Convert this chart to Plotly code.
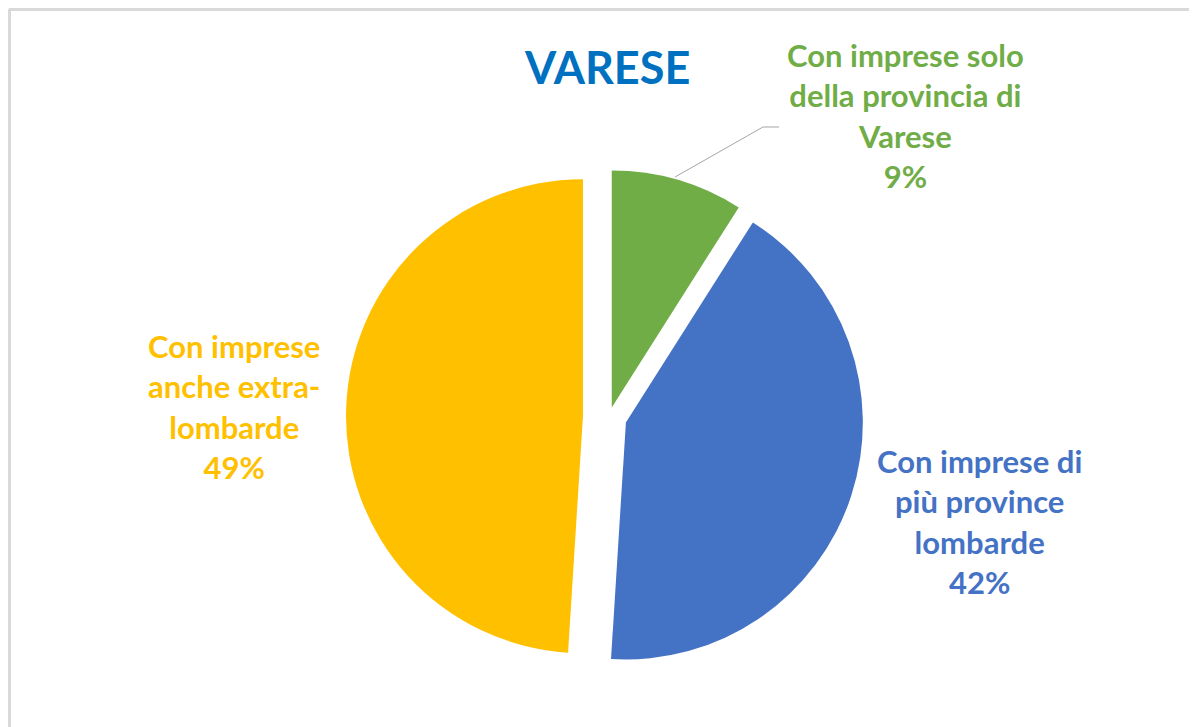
import plotly.graph_objects as go

W, H = 1197, 727
OFF = 8  # page body margin in px

categories = ["Con imprese solo della provincia di Varese",
              "Con imprese di più province lombarde",
              "Con imprese anche extra-lombarde"]
label_lines = [["Con imprese solo", "della provincia di", "Varese"],
               ["Con imprese di", "più province", "lombarde"],
               ["Con imprese", "anche extra-", "lombarde"]]
values = [9, 42, 49]
colors = ["#70AD47", "#4472C4", "#FFC000"]
pulls = [0.042, 0.075, 0.11]
title_text = "VARESE"

# label centres in page pixels
label_pos = [(905, 115), (979, 521), (234, 406)]


def px(x):
    return (x - OFF) / W


def py(y):
    return 1 - (y - OFF) / H


fig = go.Figure()

# pie domain: centre (609, 417) page px, box side 526 px
cx, cy, side = 609, 417, 526
fig.add_trace(go.Pie(
    labels=categories,
    values=values,
    marker=dict(colors=colors, line=dict(width=0)),
    pull=pulls,
    sort=False,
    direction="clockwise",
    rotation=0,
    textinfo="none",
    hoverinfo="label+percent",
    showlegend=False,
    domain=dict(x=[px(cx - side / 2), px(cx + side / 2)],
                y=[py(cy + side / 2), py(cy - side / 2)]),
))

total = sum(values)
annotations = []
for lines, v, c, (lx, ly) in zip(label_lines, values, colors, label_pos):
    txt = "<br>".join(lines + [f"{round(100 * v / total)}%"])
    annotations.append(dict(
        text=txt, x=px(lx), y=py(ly), xref="paper", yref="paper",
        xanchor="center", yanchor="middle", showarrow=False, align="center",
        font=dict(family="Lato", size=31, color=c, weight="bold"),
    ))

annotations.append(dict(
    text=f"<b>{title_text}</b>", x=px(607), y=py(67), xref="paper", yref="paper",
    xanchor="center", yanchor="middle", showarrow=False,
    font=dict(family="Lato", size=45, color="#0070C0"),
))

shapes = [
    # leader line for the small slice
    dict(type="path", xref="paper", yref="paper",
         path=f"M {px(675)} {py(177)} L {px(763)} {py(127)} L {px(779)} {py(127)}",
         line=dict(color="#A6A6A6", width=1)),
    # chart frame
    dict(type="line", xref="paper", yref="paper", x0=px(9), y0=py(9.5), x1=1, y1=py(9.5),
         line=dict(color="#D9D9D9", width=3)),
    dict(type="line", xref="paper", yref="paper", x0=px(9.5), y0=py(9), x1=px(9.5), y1=0,
         line=dict(color="#D9D9D9", width=3)),
]

fig.update_layout(
    width=W, height=H,
    margin=dict(l=0, r=0, t=0, b=0),
    paper_bgcolor="white",
    plot_bgcolor="white",
    annotations=annotations,
    shapes=shapes,
)

fig.write_html("out.html", config={"displayModeBar": False})
